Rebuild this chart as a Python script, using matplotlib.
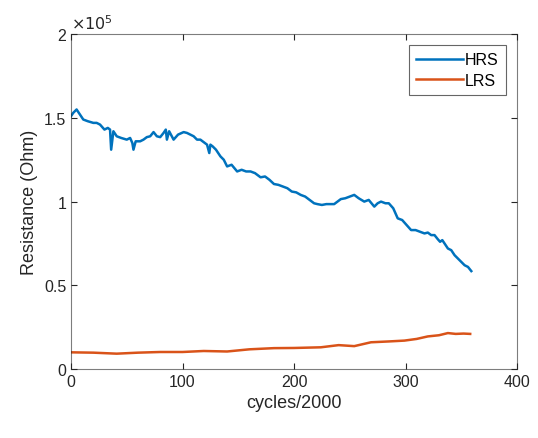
import numpy as np
import matplotlib.pyplot as plt
from matplotlib.ticker import FuncFormatter

plt.rcParams['font.family'] = ['Liberation Sans', 'DejaVu Sans']

# HRS values (x in cycles/2000, y in Ohm)
hrs_x = [0, 2, 5, 8, 11, 15, 20, 23, 26, 30, 33, 35, 36, 38, 41, 45, 50, 53, 55, 56, 58,
         62, 65, 68, 71, 74, 77, 80, 83, 85, 86, 88, 92, 96, 101, 104, 107, 110, 113,
         116, 119, 122, 124, 125, 127, 130, 134, 137, 140, 144, 149, 153, 157, 161, 165,
         170, 174, 178, 182, 186, 190, 194, 198, 202, 206, 210, 214, 218, 221, 225, 229,
         233, 236, 239, 242, 246, 250, 254, 258, 263, 267, 272, 275, 278, 282, 285, 289,
         293, 297, 301, 305, 309, 313, 317, 320, 323, 326, 329, 331, 333, 335, 338, 341,
         344, 347, 350, 353, 356, 359]
hrs_y = [1.51, 1.53, 1.55, 1.52, 1.49, 1.48, 1.47, 1.47, 1.46, 1.43, 1.44, 1.43, 1.31,
         1.42, 1.39, 1.38, 1.37, 1.38, 1.35, 1.31, 1.36, 1.36, 1.37, 1.385, 1.39, 1.415,
         1.39, 1.385, 1.41, 1.43, 1.37, 1.42, 1.37, 1.40, 1.415, 1.41, 1.40, 1.39, 1.37,
         1.37, 1.355, 1.34, 1.29, 1.34, 1.33, 1.31, 1.27, 1.25, 1.21, 1.22, 1.18, 1.19,
         1.18, 1.18, 1.17, 1.145, 1.15, 1.13, 1.105, 1.10, 1.09, 1.08, 1.06, 1.055, 1.04,
         1.03, 1.01, 0.99, 0.985, 0.98, 0.985, 0.985, 0.985, 1.00, 1.015, 1.02, 1.03,
         1.04, 1.02, 1.00, 1.01, 0.97, 0.99, 1.00, 0.99, 0.99, 0.96, 0.90, 0.89, 0.86,
         0.83, 0.83, 0.82, 0.81, 0.815, 0.80, 0.80, 0.775, 0.76, 0.77, 0.75, 0.72, 0.71,
         0.68, 0.66, 0.64, 0.62, 0.61, 0.585]
hrs_y = [v * 1e5 for v in hrs_y]

# LRS values
lrs_x = [0, 20, 41, 60, 80, 100, 119, 140, 160, 182, 200, 224, 240, 254, 269, 285, 299,
         310, 320, 330, 338, 345, 352, 358]
lrs_y = [10000, 9800, 9200, 9800, 10200, 10200, 10800, 10500, 11800, 12500, 12600,
         13000, 14300, 13700, 16000, 16500, 17000, 18000, 19500, 20200, 21500, 21000,
         21200, 21000]

fig = plt.figure(figsize=(5.38, 4.39), dpi=100)
ax = fig.add_axes([0.132, 0.157, 0.829, 0.763])

ax.plot(hrs_x, hrs_y, color='#0072BD', lw=1.8, label='HRS')
ax.plot(lrs_x, lrs_y, color='#D95319', lw=1.8, label='LRS')

ax.set_xlim(0, 400)
ax.set_ylim(0, 2e5)
ax.set_xticks([0, 100, 200, 300, 400])
ax.set_yticks([0, 0.5e5, 1e5, 1.5e5, 2e5])
ax.yaxis.set_major_formatter(FuncFormatter(lambda v, p: '%g' % (v / 1e5)))
ax.tick_params(direction='in', length=4, labelsize=11.5, colors='#262626', width=0.8,
               top=True, right=True)
for s in ax.spines.values():
    s.set_color('#262626')
    s.set_linewidth(0.8)
    s.set_alpha(0.6)

ax.text(0.0, 1.005, r'$\times10^{5}$', transform=ax.transAxes, fontsize=11.5,
        color='#262626', ha='left', va='bottom')

ax.set_xlabel('cycles/2000', fontsize=13, color='#262626')
ax.set_ylabel('Resistance (Ohm)', fontsize=13, color='#262626')

leg = ax.legend(loc='upper right', fontsize=11.5, handlelength=2.9, handletextpad=0.15,
                fancybox=False, edgecolor='#666666', framealpha=1, borderaxespad=0.7,
                borderpad=0.45, labelspacing=0.35)
leg.get_frame().set_linewidth(0.8)

fig.savefig('out.png', dpi=100)
